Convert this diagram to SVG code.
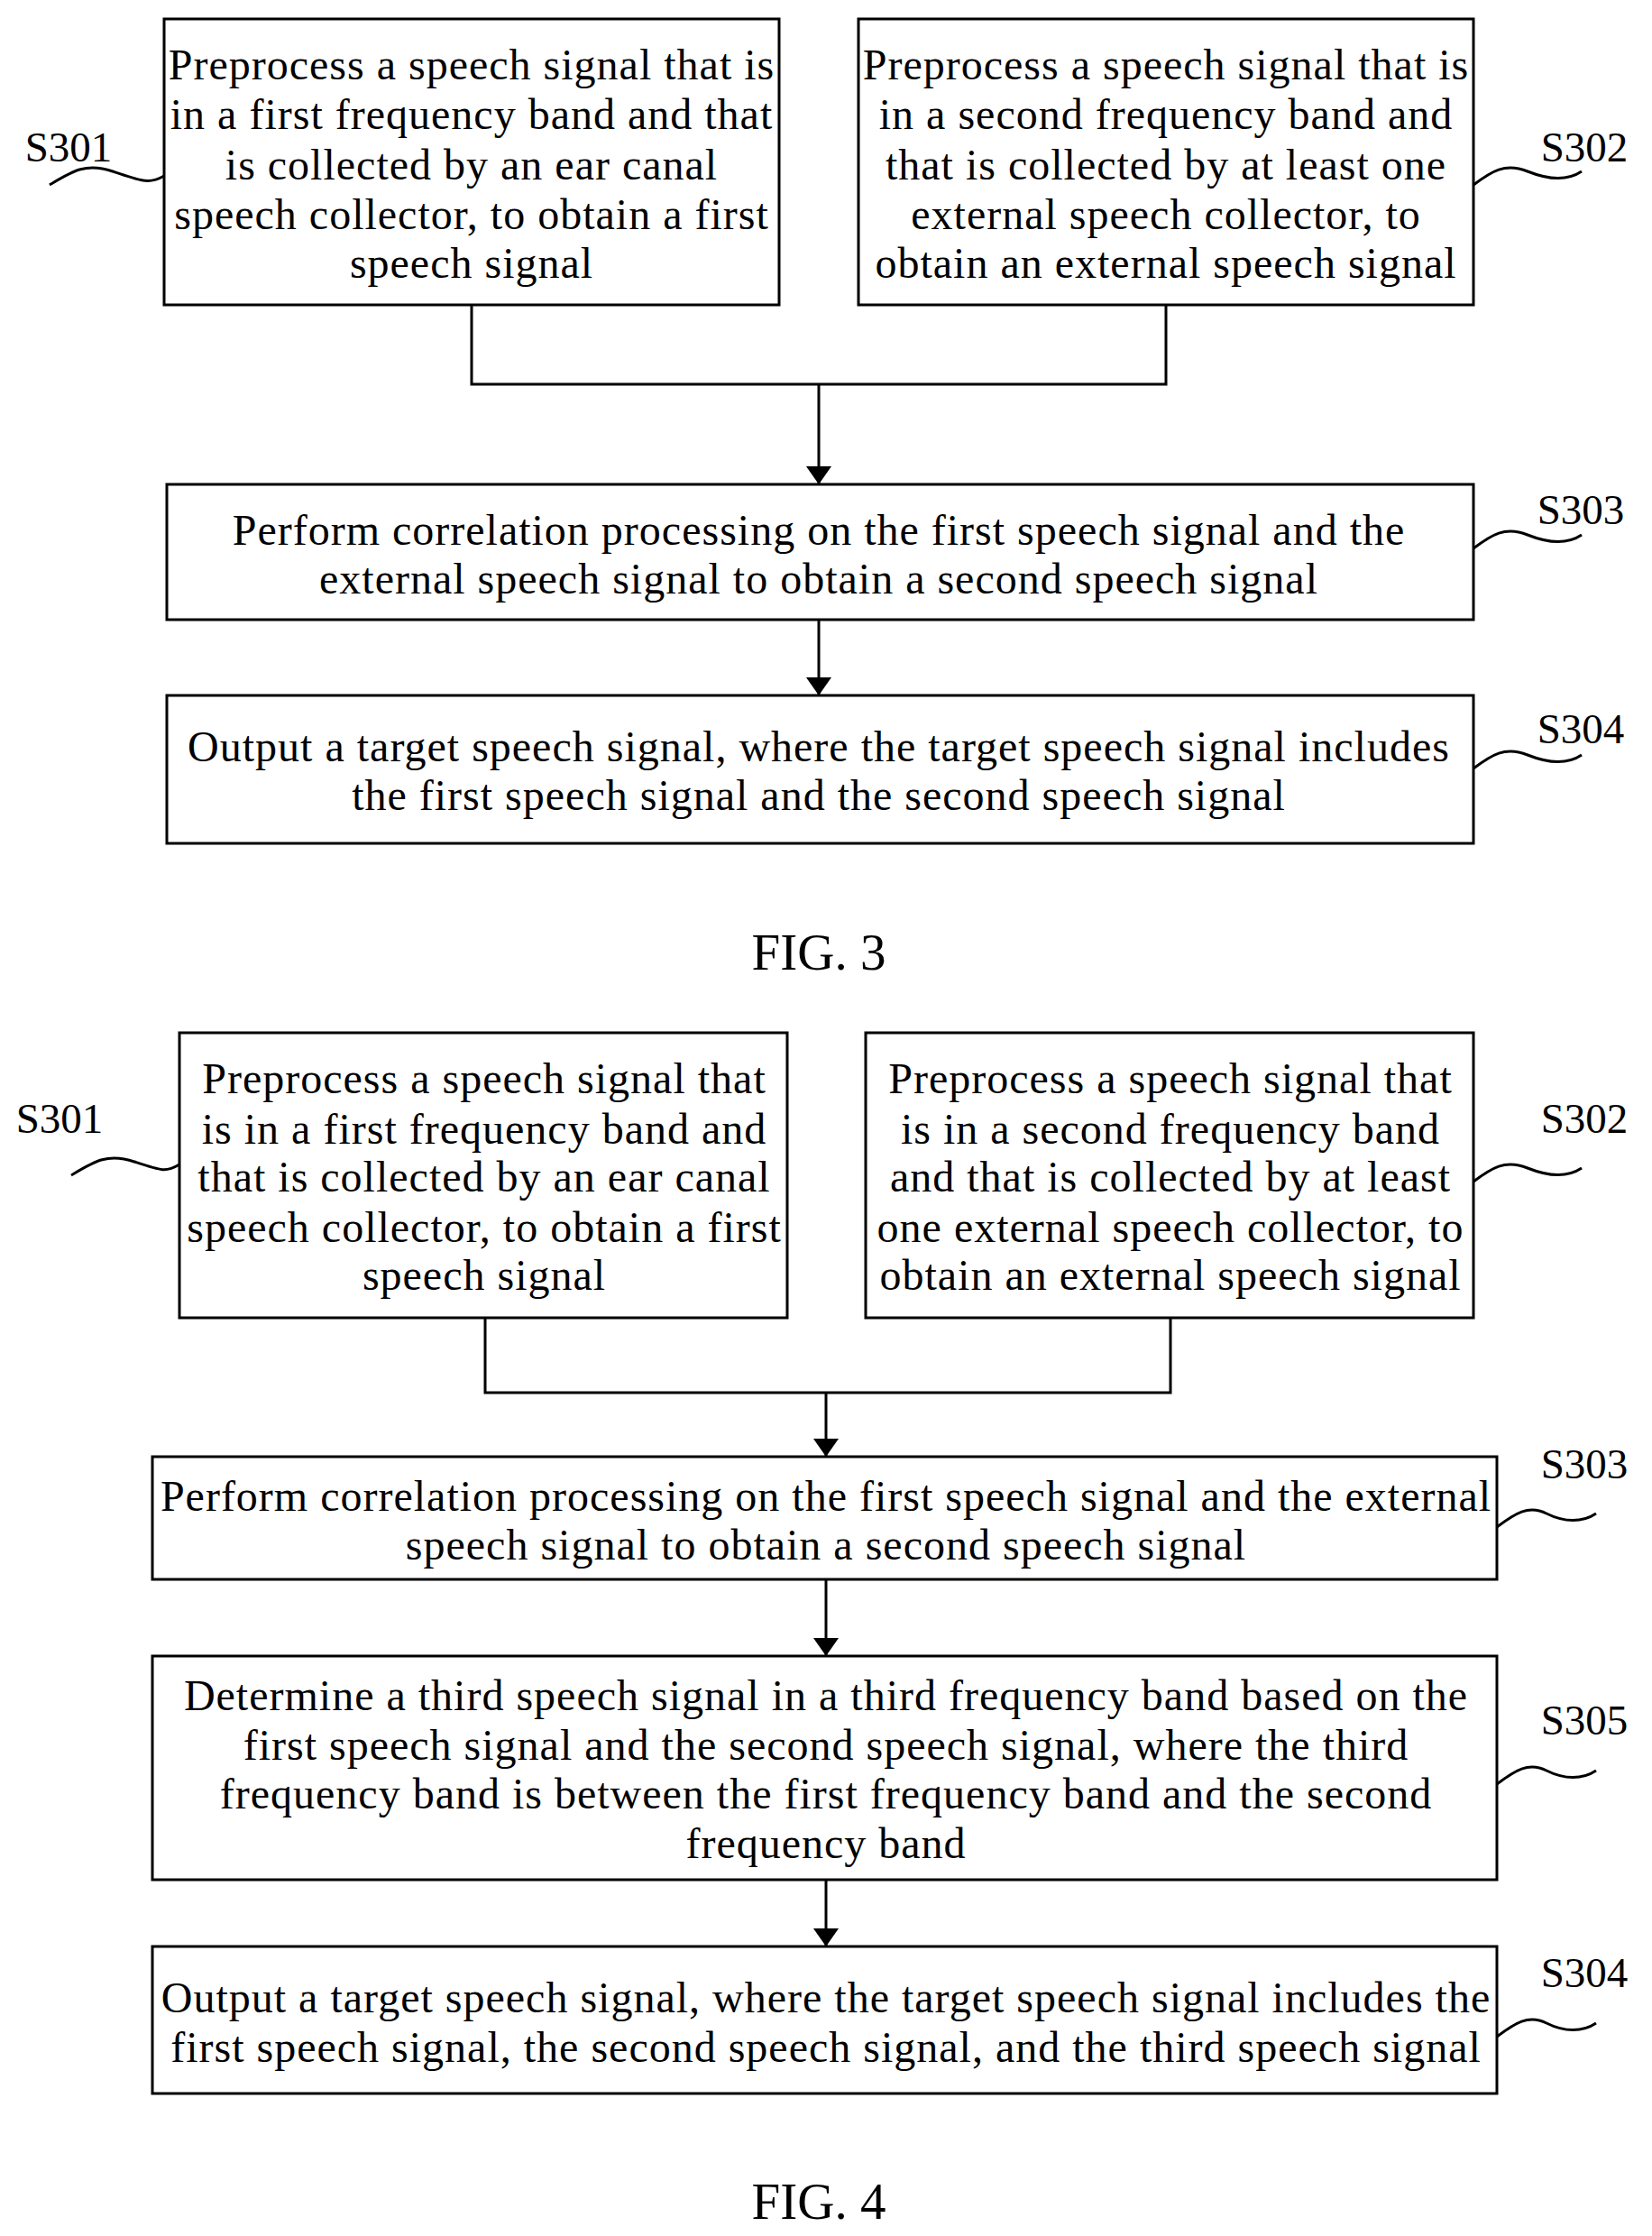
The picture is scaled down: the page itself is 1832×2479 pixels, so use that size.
<svg xmlns="http://www.w3.org/2000/svg" width="1832" height="2479" viewBox="0 0 1832 2479">
<style>
.b{fill:#fff;stroke:#000;stroke-width:3}
.l{fill:none;stroke:#000;stroke-width:3}
text{font-family:"Liberation Serif",serif;font-size:48px;letter-spacing:1px;text-anchor:middle;dominant-baseline:central;fill:#000}
.lb{font-size:47px;letter-spacing:0}
.fig{font-size:57px;letter-spacing:0}
</style>
<defs>
<marker id="ah" viewBox="0 0 10 10" refX="10" refY="5" markerWidth="20" markerHeight="28" orient="auto" markerUnits="userSpaceOnUse" preserveAspectRatio="none"><path d="M0,0L10,5L0,10z"/></marker></defs>
<g id="connectors">
<path class="l" d="M523,338V426H1293V338M908,426V537" marker-end="url(#ah)"/>
<path class="l" d="M908,687V771" marker-end="url(#ah)"/>
<path class="l" d="M538,1461V1544H1298V1461M916,1544V1615" marker-end="url(#ah)"/>
<path class="l" d="M916,1751V1836" marker-end="url(#ah)"/>
<path class="l" d="M916,2084V2158" marker-end="url(#ah)"/>
<g class="l">
<path d="M55,205c25,-15 40,-25 70,-15s40,15 57,5"/>
<path d="M1634,205c20,-15 35,-25 60,-15s45,10 60,0"/>
<path d="M1634,608c20,-15 35,-25 60,-15s45,10 60,0"/>
<path d="M1634,852c20,-15 35,-25 60,-15s45,10 60,0"/>
<path d="M79,1303c25,-15 40,-25 70,-15s35,12 50,3"/>
<path d="M1634,1310c20,-15 35,-25 60,-15s45,10 60,0"/>
<path d="M1660,1693c20,-15 35,-25 55,-15s40,10 55,0"/>
<path d="M1660,1978c20,-15 35,-25 55,-15s40,10 55,0"/>
<path d="M1660,2258c20,-15 35,-25 55,-15s40,10 55,0"/>
</g>
</g>
<g id="f3s301"><rect class="b" x="182" y="21" width="682" height="317"/>
<text x="523" y="71">Preprocess a speech signal that is</text><text x="523" y="126">in a first frequency band and that</text><text x="523" y="182">is collected by an ear canal</text><text x="523" y="237">speech collector, to obtain a first</text><text x="523" y="291">speech signal</text><text class="lb" x="76" y="163">S301</text></g>
<g id="f3s302"><rect class="b" x="952" y="21" width="682" height="317"/>
<text x="1293" y="71">Preprocess a speech signal that is</text><text x="1293" y="126">in a second frequency band and</text><text x="1293" y="182">that is collected by at least one</text><text x="1293" y="237">external speech collector, to</text><text x="1293" y="291">obtain an external speech signal</text><text class="lb" x="1757" y="163">S302</text></g>
<g id="f3s303"><rect class="b" x="185" y="537" width="1449" height="150"/>
<text x="908" y="587">Perform correlation processing on the first speech signal and the</text><text x="908" y="641">external speech signal to obtain a second speech signal</text><text class="lb" x="1753" y="565">S303</text></g>
<g id="f3s304"><rect class="b" x="185" y="771" width="1449" height="164"/>
<text x="908" y="827">Output a target speech signal, where the target speech signal includes</text><text x="908" y="881">the first speech signal and the second speech signal</text><text class="lb" x="1753" y="808">S304</text></g>
<text class="fig" x="908" y="1055">FIG. 3</text>
<g id="f4s301"><rect class="b" x="199" y="1145" width="674" height="316"/>
<text x="537" y="1195">Preprocess a speech signal that</text><text x="537" y="1251">is in a first frequency band and</text><text x="537" y="1304">that is collected by an ear canal</text><text x="537" y="1360">speech collector, to obtain a first</text><text x="537" y="1413">speech signal</text><text class="lb" x="66" y="1240">S301</text></g>
<g id="f4s302"><rect class="b" x="960" y="1145" width="674" height="316"/>
<text x="1298" y="1195">Preprocess a speech signal that</text><text x="1298" y="1251">is in a second frequency band</text><text x="1298" y="1304">and that is collected by at least</text><text x="1298" y="1360">one external speech collector, to</text><text x="1298" y="1413">obtain an external speech signal</text><text class="lb" x="1757" y="1240">S302</text></g>
<g id="f4s303"><rect class="b" x="169" y="1615" width="1491" height="136"/>
<text x="916" y="1658">Perform correlation processing on the first speech signal and the external</text><text x="916" y="1712">speech signal to obtain a second speech signal</text><text class="lb" x="1757" y="1623">S303</text></g>
<g id="f4s305"><rect class="b" x="169" y="1836" width="1491" height="248"/>
<text x="916" y="1879">Determine a third speech signal in a third frequency band based on the</text><text x="916" y="1934">first speech signal and the second speech signal, where the third</text><text x="916" y="1988">frequency band is between the first frequency band and the second</text><text x="916" y="2043">frequency band</text><text class="lb" x="1757" y="1907">S305</text></g>
<g id="f4s304"><rect class="b" x="169" y="2158" width="1491" height="163"/>
<text x="916" y="2214">Output a target speech signal, where the target speech signal includes the</text><text x="916" y="2269">first speech signal, the second speech signal, and the third speech signal</text><text class="lb" x="1757" y="2187">S304</text></g>
<text class="fig" x="908" y="2440">FIG. 4</text>
</svg>
